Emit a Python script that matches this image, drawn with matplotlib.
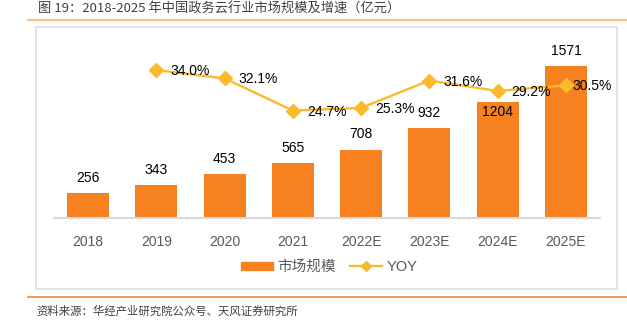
import matplotlib
matplotlib.use("Agg")
import matplotlib.pyplot as plt
from matplotlib.patches import Rectangle
from matplotlib.lines import Line2D

plt.rcParams['font.family'] = ['Liberation Sans', 'Noto Sans CJK SC', 'DejaVu Sans']

years = ['2018', '2019', '2020', '2021', '2022E', '2023E', '2024E', '2025E']
market_size = [256, 343, 453, 565, 708, 932, 1204, 1571]
yoy_years = ['2019', '2020', '2021', '2022E', '2023E', '2024E', '2025E']
yoy = [0.340, 0.321, 0.247, 0.253, 0.316, 0.292, 0.305]

title = '图 19：2018-2025 年中国政务云行业市场规模及增速（亿元）'
source = '资料来源：华经产业研究院公众号、天风证券研究所'

BAR = '#F5821F'
LINE = '#FBBA2C'

W, H = 627, 323
fig = plt.figure(figsize=(W / 100, H / 100), dpi=100)

def fx(px):
    return px / W

def fy(py):
    return 1 - py / H

# header / footer decoration
fig.text(fx(38), fy(9), title, fontsize=9.5, color='#404040',
         family=['Noto Sans CJK SC'], weight='medium', va='center', ha='left')
fig.add_artist(Line2D([fx(28), 1], [fy(20), fy(20)], color='#FBC08A', lw=1.6))
fig.add_artist(Rectangle((fx(36), fy(289)), fx(617) - fx(36), fy(27) - fy(289),
                         fill=False, edgecolor='#DDDDDD', lw=1.2))
fig.add_artist(Line2D([fx(28), 1], [fy(297), fy(297)], color='#EE8A3C', lw=1.2))
fig.text(fx(36), fy(311), source, fontsize=8.2, color='#404040',
         family=['Noto Sans CJK SC'], va='center', ha='left')

ax = fig.add_axes([fx(54), fy(218), fx(600) - fx(54), fy(44) - fy(218)])
x = list(range(len(years)))
ax.bar(x, market_size, width=0.615, color=BAR, zorder=2)
ax.set_xlim(-0.5, len(years) - 0.5)
ax.set_ylim(0, 1800)
for xi, v in zip(x, market_size):
    # the 2024E value would collide with the YOY line, so it sits inside its bar
    dy = -7.5 if v == 1204 else 11
    ax.annotate(str(v), (xi, v), xytext=(0, dy), textcoords='offset points',
                ha='center', va='center', fontsize=10, color='#000000', zorder=5)

ax.set_xticks(x)
ax.set_xticklabels(years, fontsize=10, color='#595959')
ax.tick_params(axis='x', length=0, pad=12)
ax.set_yticks([])
for s in ['top', 'right', 'left']:
    ax.spines[s].set_visible(False)
ax.spines['bottom'].set_color('#D9D9D9')
ax.spines['bottom'].set_linewidth(1.5)

ax2 = ax.twinx()
ax2.set_ylim(0, 0.40)
xl = [years.index(y) for y in yoy_years]
ax2.plot(xl, yoy, color=LINE, lw=1.7, marker='D', markersize=7, zorder=3)
ax2.set_yticks([])
for s in ax2.spines.values():
    s.set_visible(False)
for i, (xi, v) in enumerate(zip(xl, yoy)):
    dx = 4.5 if i == len(yoy) - 1 else 10
    ax2.annotate(f'{v * 100:.1f}%', (xi, v), xytext=(dx, -0.8), textcoords='offset points',
                 ha='left', va='center', fontsize=10, color='#000000', zorder=5)

handles = [Rectangle((0, 0), 1, 1, color=BAR),
           Line2D([], [], color=LINE, lw=1.7, marker='D', markersize=5)]
fig.legend(handles, ['市场规模', 'YOY'], loc='center', bbox_to_anchor=(fx(329), fy(267)),
           ncol=2, frameon=False, fontsize=10.5, labelcolor='#595959',
           handlelength=2.2, handleheight=0.5, handletextpad=0.3, columnspacing=1.0)

fig.savefig('out.png', dpi=100)
